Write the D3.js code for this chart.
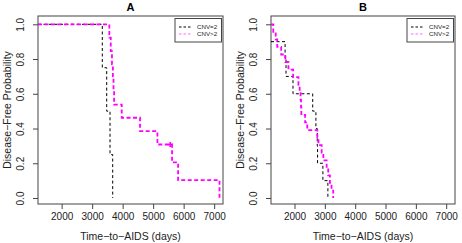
<!DOCTYPE html>
<html>
<head>
<meta charset="utf-8">
<script src="https://cdn.jsdelivr.net/npm/d3@7"></script>
<style>
  body { margin: 0; background: #fff; }
  svg text { font-family: "Liberation Sans", Arial, sans-serif; }
</style>
</head>
<body>
<svg id="chart" width="462" height="243"></svg>
<script>
// panel titles and tick labels
const panelTitles = ["A", "B"]
const xTicks = [2000, 3000, 4000, 5000, 6000, 7000]
const yTicks = [0.0, 0.2, 0.4, 0.6, 0.8, 1.0]
const groupNames = ["CNV=2", "CNV>2"]

// panel A, CNV=2 : event times and survival after each event
const aLowStart = 1.0
const aLowTimes = [3333, 3477, 3586, 3674]
const aLowSurv  = [0.75, 0.50, 0.25, 0.00]

// panel A, CNV>2
const aHighStart = 1.0
const aHighTimes = [3563, 3610, 3650, 3680, 3700, 3720, 3970, 4570, 5140, 5620, 5818, 7175]
const aHighSurv  = [0.923, 0.846, 0.769, 0.692, 0.615, 0.538, 0.462, 0.385, 0.308, 0.205, 0.103, 0.000]
const aHighCensorTimes = [5560]
const aHighCensorSurv  = [0.308]

// panel B, CNV=2 (first event lies left of the axis range)
const bLowStart = 0.9
const bLowTimes = [1690, 1720, 1950, 2600, 2705, 2750, 2760, 2935, 3100]
const bLowSurv  = [0.8, 0.7, 0.6, 0.5, 0.4, 0.3, 0.2, 0.1, 0.0]

// panel B, CNV>2
const bHighStart = 1.0
const bHighTimes = [1300, 1380, 1430, 1560, 1700, 1800, 1955, 2130, 2170, 2200, 2215, 2225, 2350, 2420, 2752, 2790, 2895, 2950, 3059, 3110, 3167, 3220, 3275]
const bHighSurv  = [0.957, 0.913, 0.870, 0.826, 0.783, 0.739, 0.696, 0.652, 0.609, 0.565, 0.522, 0.478, 0.435, 0.391, 0.348, 0.304, 0.261, 0.217, 0.174, 0.130, 0.087, 0.043, 0.000]

const xDomain = [1225, 7290]

const svg = d3.select("#chart")

const panels = [
  {left: 38, right: 223, title: panelTitles[0],
   series: [
     {start: aLowStart, times: aLowTimes, surv: aLowSurv, color: "#000", width: 1, dash: "3,2.5"},
     {start: aHighStart, times: aHighTimes, surv: aHighSurv, color: "#ff00ff", width: 1.8, dash: "4,2.5",
      ctimes: aHighCensorTimes, csurv: aHighCensorSurv}
   ]},
  {left: 271, right: 455, title: panelTitles[1],
   series: [
     {start: bLowStart, times: bLowTimes, surv: bLowSurv, color: "#000", width: 1, dash: "3,2.5"},
     {start: bHighStart, times: bHighTimes, surv: bHighSurv, color: "#ff00ff", width: 1.8, dash: "4,2.5"}
   ]}
]

const plotTop = 16, plotBottom = 204

panels.forEach(function(p, i) {
  var x = d3.scaleLinear().domain(xDomain).range([p.left, p.right])
  var y = d3.scaleLinear().domain([0, 1]).range([198, 24.3])

  var g = svg.append("g")

  g.append("clipPath").attr("id", "clip" + i)
    .append("rect")
    .attr("x", p.left).attr("y", plotTop)
    .attr("width", p.right - p.left).attr("height", plotBottom - plotTop)

  // x axis
  var xa = g.append("g")
    .attr("transform", "translate(0," + plotBottom + ")")
    .call(d3.axisBottom(x).tickValues(xTicks).tickSize(5).tickPadding(4).tickFormat(d3.format("d")))
  xa.select(".domain").remove()
  xa.selectAll("line").attr("stroke", "#444")
  xa.selectAll("text").attr("font-size", 10).attr("fill", "#222").attr("font-family", null)

  // y axis, labels turned like R does
  var ya = g.append("g")
    .attr("transform", "translate(" + p.left + ",0)")
    .call(d3.axisLeft(y).tickValues(yTicks).tickSize(5).tickFormat(d3.format(".1f")))
  ya.select(".domain").remove()
  ya.selectAll("line").attr("stroke", "#444")
  ya.selectAll("text")
    .attr("font-size", 10).attr("fill", "#222").attr("font-family", null)
    .attr("x", null).attr("dy", null)
    .attr("text-anchor", "middle")
    .attr("transform", "translate(-14,0) rotate(-90)")

  // box
  g.append("rect")
    .attr("x", p.left).attr("y", plotTop)
    .attr("width", p.right - p.left).attr("height", plotBottom - plotTop)
    .attr("fill", "none").attr("stroke", "#444").attr("stroke-width", 1)

  // titles
  g.append("text")
    .attr("x", (p.left + p.right) / 2).attr("y", 11)
    .attr("text-anchor", "middle").attr("font-weight", "bold").attr("font-size", 11)
    .text(p.title)

  g.append("text")
    .attr("x", (p.left + p.right) / 2).attr("y", 240)
    .attr("text-anchor", "middle").attr("font-size", 10.5).attr("fill", "#222")
    .text("Time\u2212to\u2212AIDS (days)")

  g.append("text")
    .attr("transform", "translate(" + (p.left - 27) + "," + ((plotTop + plotBottom) / 2) + ") rotate(-90)")
    .attr("text-anchor", "middle").attr("font-size", 10.5).attr("fill", "#222")
    .text("Disease\u2212Free Probability")

  // survival curves
  var line = d3.line()
    .x(function(d) { return x(d[0]) })
    .y(function(d) { return y(d[1]) })
    .curve(d3.curveStepAfter)

  var plot = g.append("g").attr("clip-path", "url(#clip" + i + ")")

  p.series.forEach(function(s) {
    var pts = [[xDomain[0], s.start]].concat(d3.zip(s.times, s.surv))
    plot.append("path")
      .datum(pts)
      .attr("d", line)
      .attr("fill", "none")
      .attr("stroke", s.color)
      .attr("stroke-width", s.width)
      .attr("stroke-dasharray", s.dash)

    if (s.ctimes) {
      plot.selectAll(null)
        .data(d3.zip(s.ctimes, s.csurv))
        .enter()
        .append("path")
        .attr("d", d3.symbol(d3.symbolCross, 14))
        .attr("transform", function(d) { return "translate(" + x(d[0]) + "," + y(d[1]) + ")" })
        .attr("fill", s.color)
    }
  })

  // legend
  var lx = p.right - 48, ly = 18.5
  g.append("rect")
    .attr("x", lx).attr("y", ly).attr("width", 46.5).attr("height", 23.5)
    .attr("fill", "#fff").attr("stroke", "#444").attr("stroke-width", 1)
  p.series.forEach(function(s, k) {
    var yy = ly + 8.5 + k * 7
    g.append("line")
      .attr("x1", lx + 4).attr("x2", lx + 17)
      .attr("y1", yy).attr("y2", yy)
      .attr("stroke", k == 0 ? "#000" : "#ff66ff")
      .attr("stroke-width", 1)
      .attr("stroke-dasharray", "2.5,2")
    g.append("text")
      .attr("x", lx + 22).attr("y", yy + 2.2)
      .attr("font-size", 6.2).attr("fill", "#222")
      .text(groupNames[k])
  })
})
</script>
</body>
</html>
